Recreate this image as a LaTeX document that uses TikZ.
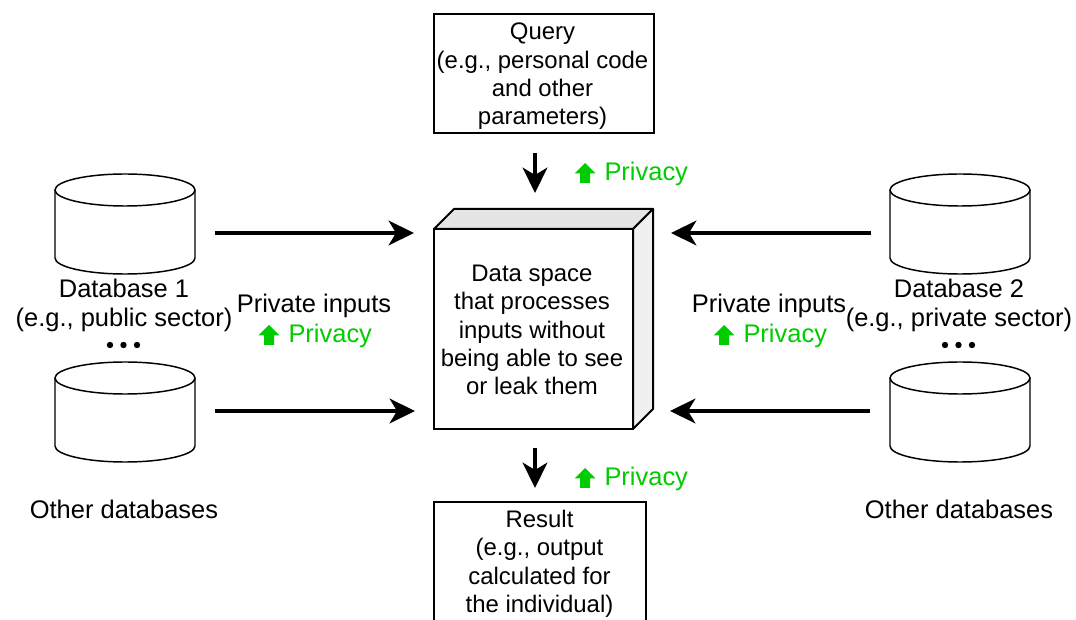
\documentclass[tikz,border=0pt]{standalone}
\usepackage{fontspec}
\setmainfont{Liberation Sans}
\usetikzlibrary{arrows.meta}
\definecolor{privgreen}{HTML}{00CC00}
\tikzset{
  x=0.75pt,y=-0.75pt,
  txt/.style={font=\fontsize{17.95}{21.3}\selectfont,align=center,inner sep=0pt,outer sep=0pt,text=black},
  outtxt/.style={txt,font=\fontsize{19.1}{21.7}\selectfont},
  boxed/.style={draw=black,line width=1.5pt,fill=white},
  priv/.style={outtxt,text=privgreen,anchor=west},
  flow/.style={line width=2.7pt,-{Stealth[length=19pt,width=18.5pt,inset=5.5pt]}},
  upflag/.style={fill=privgreen,draw=none},
  dbline/.style={draw=black,line width=1.1pt,fill=white},
  dotmark/.style={circle,fill=black,inner sep=0pt,minimum size=4.8pt},
  cubeline/.style={draw=black,line width=1.5pt,line join=round},
}
\newcommand{\dbshape}[2]{%
  \path[dbline] (#1-70,#2) -- (#1-70,#2+68) arc[start angle=180,end angle=0,x radius=70,y radius=16] -- (#1+70,#2) ;
  \path[dbline] (#1,#2) ellipse[x radius=70,y radius=16];
}
\newcommand{\privmark}[3]{%
  \path[upflag] (#2,#3-10) -- (#2+10.5,#3+0.5) -- (#2+5,#3+0.5) -- (#2+5,#3+10) -- (#2-5,#3+10) -- (#2-5,#3+0.5) -- (#2-10.5,#3+0.5) -- cycle;
  \node[priv] (#1) at (#2+19.5,#3+1) {Privacy};
}
\begin{document}
\begin{tikzpicture}
\useasboundingbox (0,0) rectangle (1076,620);
\clip (0,0) rectangle (1076,620);
\fill[white] (0,0) rectangle (1076,620);
% query and result
\node[boxed,txt,anchor=north west,minimum width=165pt,minimum height=89.5pt] (query) at (433.5,14) {};
\node[txt,anchor=north] (querytext) at (542.5,23) {Query\\(e.g., personal code\\and other\\parameters)};
\node[boxed,txt,anchor=north west,minimum width=159.5pt,minimum height=120pt] (result) at (433.5,502.5) {};
\node[txt,anchor=north] (resulttext) at (539.5,510) {Result\\(e.g., output\\calculated for\\the individual)};
% cube
\path[cubeline,fill=black!10] (434,229) -- (454,209) -- (653,209) -- (633,229) -- cycle;
\path[cubeline,fill=black!6] (633,229) -- (653,209) -- (653,409) -- (633,429) -- cycle;
\node[boxed,txt,anchor=north west,minimum width=149.25pt,minimum height=150pt] (cube) at (434,229) {};
\node[txt] (cubetext) at (532,330) {Data space\\that processes\\inputs without\\being able to see\\or leak them};
% databases
\dbshape{125}{190}
\dbshape{125}{378}
\dbshape{960}{190}
\dbshape{960}{378}
\node[outtxt] (db1) at (124,305) {Database 1\\(e.g., public sector)};
\node[outtxt] (db2) at (959,305) {Database 2\\(e.g., private sector)};
\node[outtxt] (other1) at (124,509) {Other databases};
\node[outtxt] (other2) at (959,509) {Other databases};
\node[dotmark] (la) at (110,345) {};
\node[dotmark] (lb) at (123.5,345) {};
\node[dotmark] (lc) at (137,345) {};
\node[dotmark] (ra) at (945,345) {};
\node[dotmark] (rb) at (958.5,345) {};
\node[dotmark] (rc) at (972,345) {};
% labels
\node[outtxt] (pi1) at (314,306) {Private inputs};
\node[outtxt] (pi2) at (769,306) {Private inputs};
\privmark{p1}{269}{335}
\privmark{p2}{724}{335}
\privmark{p3}{585}{173}
\privmark{p4}{585}{478}
% connectors
\coordinate (qa) at (535,153); \coordinate (qb) at (535,193);
\coordinate (ra1) at (535,448); \coordinate (rb1) at (535,488);
\coordinate (l1a) at (215,233); \coordinate (l1b) at (414,233);
\coordinate (l2a) at (215,411); \coordinate (l2b) at (415,411);
\coordinate (r1a) at (871,233); \coordinate (r1b) at (671,233);
\coordinate (r2a) at (870,411); \coordinate (r2b) at (670,411);
\draw[flow] (qa) -- (qb);
\draw[flow] (ra1) -- (rb1);
\draw[flow] (l1a) -- (l1b);
\draw[flow] (l2a) -- (l2b);
\draw[flow] (r1a) -- (r1b);
\draw[flow] (r2a) -- (r2b);
\end{tikzpicture}
\end{document}
